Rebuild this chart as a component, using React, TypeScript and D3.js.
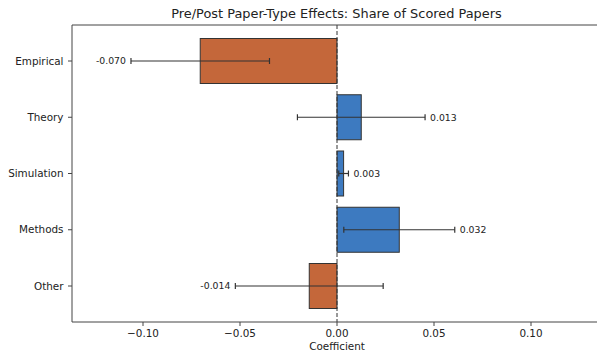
import React from "react";
import * as d3 from "d3";

const categories = ["Empirical", "Theory", "Simulation", "Methods", "Other"];
const coefficients = [-0.0705, 0.0125, 0.0034, 0.0321, -0.0143];
const errors = [0.0357, 0.0329, 0.0025, 0.0286, 0.0381];
const valueLabels = ["-0.070", "0.013", "0.003", "0.032", "-0.014"];
const xTicks = [-0.1, -0.05, 0, 0.05, 0.1];

const W = 597;
const H = 352;
const FONT = "DejaVu Sans, sans-serif";

export default function App() {
  const left = 72;
  const top = 25;
  const bottom = 322;
  const right = 600;
  const zeroX = 337;
  const pxPer = 1940;
  const x = d3
    .scaleLinear()
    .domain([(left - zeroX) / pxPer, (right - zeroX) / pxPer])
    .range([left, right]);
  const y = d3.scaleLinear().domain([-0.64, 4.64]).range([top, bottom]);
  const barH = y(0.8) - y(0);
  const orange = "#c4673a";
  const blue = "#3d7ac0";

  return (
    <svg width={W} height={H} style={{ position: "absolute", left: 0, top: 0 }}>
      <rect x={0} y={0} width={W} height={H} fill="#fff" />
      <text x={336.5} y={18} textAnchor="middle" fontFamily={FONT} fontSize={12.9} fill="#222">
        Pre/Post Paper-Type Effects: Share of Scored Papers
      </text>
      {categories.map((c, i) => {
        const v = coefficients[i];
        const x0 = x(Math.min(0, v));
        const x1 = x(Math.max(0, v));
        return (
          <rect
            key={c}
            x={x0}
            y={y(i) - barH / 2}
            width={x1 - x0}
            height={barH}
            fill={v < 0 ? orange : blue}
            stroke="#333"
            strokeWidth={1}
          />
        );
      })}
      <line x1={x(0)} x2={x(0)} y1={top} y2={bottom} stroke="#333" strokeWidth={1} strokeDasharray="4,2" />
      {categories.map((c, i) => {
        const v = coefficients[i];
        const e = errors[i];
        const xl = x(v - e);
        const xr = x(v + e);
        const cy = y(i);
        return (
          <g key={c + "err"}>
            <line x1={xl} x2={xr} y1={cy} y2={cy} stroke="#333" strokeWidth={1.2} />
            <line x1={xl} x2={xl} y1={cy - 3} y2={cy + 3} stroke="#333" strokeWidth={1.2} />
            <line x1={xr} x2={xr} y1={cy - 3} y2={cy + 3} stroke="#333" strokeWidth={1.2} />
            <text
              x={v < 0 ? xl - 5 : xr + 5}
              y={cy}
              dy="0.35em"
              textAnchor={v < 0 ? "end" : "start"}
              fontFamily={FONT}
              fontSize={9.3}
              fill="#222"
            >
              {valueLabels[i]}
            </text>
          </g>
        );
      })}
      {/* spines */}
      <line x1={left} x2={left} y1={top} y2={bottom} stroke="#444" strokeWidth={1} />
      <line x1={left} x2={right} y1={top} y2={top} stroke="#444" strokeWidth={1} />
      <line x1={left} x2={right} y1={bottom} y2={bottom} stroke="#444" strokeWidth={1} />
      {/* y ticks */}
      {categories.map((c, i) => (
        <g key={c + "tick"}>
          <line x1={left - 4} x2={left} y1={y(i)} y2={y(i)} stroke="#444" />
          <text x={left - 8.5} y={y(i)} dy="0.35em" textAnchor="end" fontFamily={FONT} fontSize={10.4} fill="#222">
            {c}
          </text>
        </g>
      ))}
      {/* x ticks */}
      {xTicks.map((t) => (
        <g key={t}>
          <line x1={x(t)} x2={x(t)} y1={bottom} y2={bottom + 4} stroke="#444" />
          <text x={x(t)} y={bottom + 15} textAnchor="middle" fontFamily={FONT} fontSize={10.4} fill="#222">
            {t.toFixed(2).replace("-", "\u2212")}
          </text>
        </g>
      ))}
      <text x={x(0)} y={bottom + 28} textAnchor="middle" fontFamily={FONT} fontSize={10.4} fill="#222">
        Coefficient
      </text>
    </svg>
  );
}
